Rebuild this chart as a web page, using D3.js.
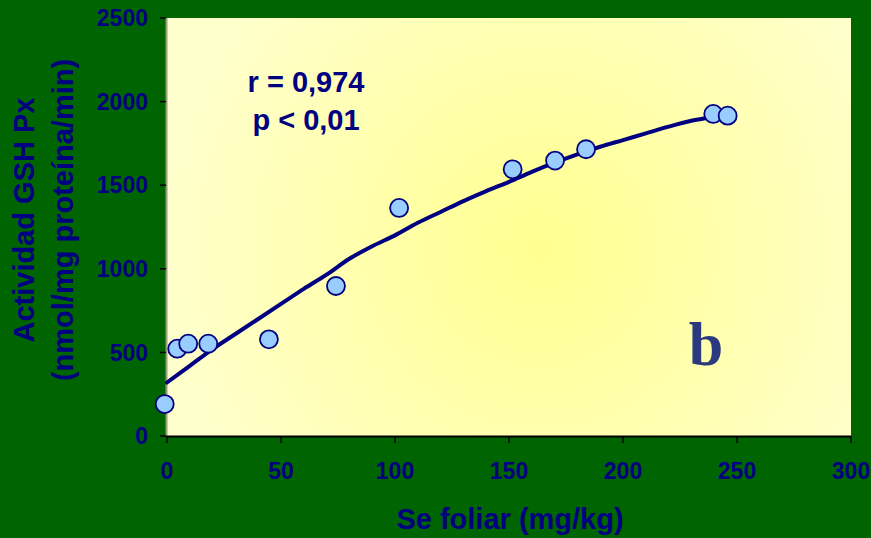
<html>
<head>
<title>GSH Px</title>
<style>
  body { margin: 0; background: #006400; }
  text { font-family: "Liberation Sans", Arial, sans-serif; font-weight: bold; fill: #000080; }
</style>
</head>
<body>
<div id="viz"></div>
<script src="https://d3js.org/d3.v7.min.js"></script>
<script>
var width = 871;
var height = 538;

// measured points
var seFoliar = [-1, 4.5, 9.3, 18.1, 44.7, 74.1, 101.8, 151.6, 170.2, 183.8, 239.6, 245.9];
var gshPx = [191, 522, 552, 552, 578, 897, 1364, 1595, 1647, 1715, 1926, 1916];

// fitted curve
var curveX = [0, 10, 20, 30, 40, 50, 60, 70, 80, 90, 100, 110, 120, 130, 140, 150, 160, 170, 180, 190, 200, 210, 220, 230, 240, 246];
var curveY = [320, 420, 520, 610, 700, 790, 880, 965, 1060, 1135, 1200, 1275, 1340, 1405, 1465, 1520, 1580, 1635, 1685, 1730, 1770, 1810, 1850, 1885, 1910, 1930];

var xTicks = [0, 50, 100, 150, 200, 250, 300];
var yTicks = [0, 500, 1000, 1500, 2000, 2500];

var svg = d3.select("#viz")
    .append('svg')
    .attr('width', width)
    .attr('height', height);

svg.append('rect').attr('width', width).attr('height', height).attr('fill', '#006400');

var x = d3.scaleLinear().domain([0, 300]).range([167, 851]);
var y = d3.scaleLinear().domain([0, 2500]).range([436, 18]);

var defs = svg.append('defs');
var grad = defs.append('radialGradient')
    .attr('id', 'bg')
    .attr('gradientUnits', 'userSpaceOnUse')
    .attr('cx', 540).attr('cy', 250).attr('r', 380);
grad.append('stop').attr('offset', '0%').attr('stop-color', '#FFFF90');
grad.append('stop').attr('offset', '100%').attr('stop-color', '#FFFFCC');

svg.append('rect')
    .attr('x', x(0))
    .attr('y', y(2500))
    .attr('width', x(300) - x(0))
    .attr('height', y(0) - y(2500))
    .attr('fill', 'url(#bg)');

// left axis
svg.append('line')
    .attr('x1', x(0) - 0.5).attr('x2', x(0) - 0.5)
    .attr('y1', y(2500)).attr('y2', y(0))
    .attr('stroke', '#9a9a80').attr('stroke-width', 2);

svg.selectAll('.ytick')
    .data(yTicks)
    .enter()
    .append('line')
    .attr('x1', x(0) - 7).attr('x2', x(0) - 1)
    .attr('y1', function (d) { return y(d); })
    .attr('y2', function (d) { return y(d); })
    .attr('stroke', 'black').attr('stroke-width', 1.5);

svg.selectAll('.ylab')
    .data(yTicks)
    .enter()
    .append('text')
    .attr('x', 148)
    .attr('y', function (d) { return y(d); })
    .attr('dy', '0.36em')
    .attr('text-anchor', 'end')
    .style('font-size', '23px')
    .text(function (d) { return d; });

// bottom axis
svg.append('line')
    .attr('x1', x(0) - 1).attr('x2', x(300))
    .attr('y1', y(0) + 0.5).attr('y2', y(0) + 0.5)
    .attr('stroke', 'black').attr('stroke-width', 2);

svg.selectAll('.xtick')
    .data(xTicks)
    .enter()
    .append('line')
    .attr('x1', function (d) { return x(d); })
    .attr('x2', function (d) { return x(d); })
    .attr('y1', y(0)).attr('y2', y(0) + 7)
    .attr('stroke', 'black').attr('stroke-width', 1.5);

svg.selectAll('.xlab')
    .data(xTicks)
    .enter()
    .append('text')
    .attr('x', function (d) { return x(d); })
    .attr('y', 479)
    .attr('text-anchor', 'middle')
    .style('font-size', '23px')
    .text(function (d) { return d; });

// titles
svg.append('text')
    .attr('x', 510).attr('y', 529)
    .attr('text-anchor', 'middle')
    .style('font-size', '29px')
    .text('Se foliar (mg/kg)');

svg.append('text')
    .attr('transform', 'translate(34,220) rotate(-90)')
    .attr('text-anchor', 'middle')
    .style('font-size', '29px')
    .text('Actividad GSH Px');

svg.append('text')
    .attr('transform', 'translate(73,220) rotate(-90)')
    .attr('text-anchor', 'middle')
    .style('font-size', '29px')
    .text('(nmol/mg proteína/min)');

// curve
var line = d3.line()
    .x(function (d, i) { return x(curveX[i]); })
    .y(function (d) { return y(d); })
    .curve(d3.curveCatmullRom);

svg.append('path')
    .datum(curveY)
    .attr('d', line)
    .attr('fill', 'none')
    .attr('stroke', '#000080')
    .attr('stroke-width', 4)
    .attr('stroke-linecap', 'round');

// points
svg.selectAll('circle')
    .data(gshPx)
    .enter()
    .append('circle')
    .attr('cx', function (d, i) { return x(seFoliar[i]); })
    .attr('cy', function (d) { return y(d); })
    .attr('r', 9)
    .attr('fill', '#99CCFF')
    .attr('stroke', '#000080')
    .attr('stroke-width', 1.8);

// annotations
svg.append('text')
    .attr('x', 306).attr('y', 92)
    .attr('text-anchor', 'middle')
    .style('font-size', '29px')
    .text('r = 0,974');

svg.append('text')
    .attr('x', 306).attr('y', 130)
    .attr('text-anchor', 'middle')
    .style('font-size', '29px')
    .text('p < 0,01');

svg.append('text')
    .attr('x', 706).attr('y', 365)
    .attr('text-anchor', 'middle')
    .style('font-family', '"Liberation Serif", "Times New Roman", serif')
    .style('font-size', '62px')
    .style('fill', '#2B3A7E')
    .text('b');
</script>
</body>
</html>
